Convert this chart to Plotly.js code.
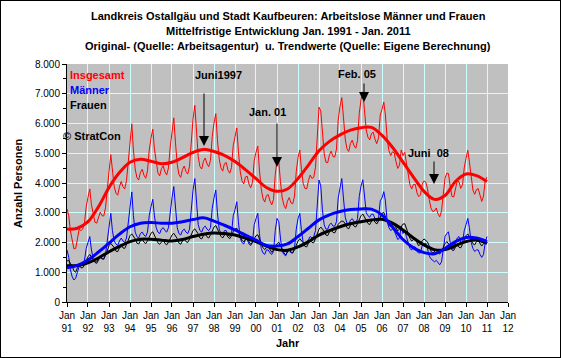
<!DOCTYPE html>
<html><head><meta charset="utf-8">
<script src="https://cdn.plot.ly/plotly-3.0.1.min.js"></script>
<style>
html,body{margin:0;padding:0;background:#fff;}
#wrap{position:relative;width:561px;height:358px;}
#chart{width:561px;height:358px;}
#frame{position:absolute;left:0;top:0;width:561px;height:358px;box-sizing:border-box;border:1px solid #000;pointer-events:none;}
</style></head>
<body>
<div id="wrap"><div id="chart"></div><div id="frame"></div></div>
<script>
// Monthly values Jan 1991 ... Jan 2011 (one row per year)
const maenner = [
1750,1500,1100,850,740,800,1000,1200,1250,1300,1400,1800,
2000,2200,1750,1450,1350,1350,1450,1500,1450,1450,1600,2100,
2500,2980,2400,2050,1950,1900,2050,2150,2050,2000,2150,2700,
3200,3700,2900,2350,2200,2150,2300,2350,2250,2200,2350,2900,
3200,3450,2900,2500,2350,2300,2450,2500,2400,2350,2500,3050,
3500,3880,3150,2500,2300,2250,2400,2450,2350,2300,2450,3100,
3750,4150,3300,2600,2400,2350,2500,2550,2450,2400,2500,3150,
3500,3760,3000,2450,2300,2250,2400,2400,2250,2200,2300,2900,
3100,3370,2700,2150,2000,1950,2100,2100,1950,1900,2000,2600,
2800,2980,2300,1800,1650,1600,1750,1750,1650,1600,1700,2400,
2810,2700,2150,1700,1600,1550,1700,1750,1650,1650,1800,2450,
2800,2980,2400,2000,1950,1950,2100,2200,2150,2200,2400,3200,
4100,3900,3100,2600,2450,2450,2600,2650,2550,2550,2700,3500,
3900,4150,3500,2850,2650,2600,2750,2800,2700,2650,2800,3550,
3900,4110,3600,3000,2900,2850,2950,2950,2800,2700,2800,3400,
3500,3710,3400,2700,2500,2400,2450,2400,2250,2100,2150,2550,
2300,2400,2200,1950,1800,1750,1850,1850,1700,1650,1650,1900,
1950,1980,1800,1550,1450,1400,1350,1400,1300,1250,1350,1750,
2200,2300,2360,2000,1800,1800,2000,2150,2200,2000,2000,2400,
2600,2810,2500,2000,1800,1700,1750,1750,1600,1500,1600,2000,
2200];
const frauen = [
1380,1400,1300,1200,1050,1000,1150,1250,1150,1150,1250,1400,
1520,1600,1520,1450,1330,1300,1430,1520,1450,1440,1570,1760,
1890,1970,1900,1830,1710,1690,1820,1900,1820,1800,1930,2100,
2230,2290,2210,2120,1980,1950,2060,2110,2010,1960,2060,2210,
2310,2360,2250,2150,1990,1940,2030,2080,1970,1920,2010,2160,
2250,2310,2220,2130,1980,1940,2050,2120,2030,2000,2120,2280,
2400,2460,2380,2290,2150,2120,2230,2290,2190,2150,2260,2410,
2520,2570,2460,2360,2210,2150,2250,2290,2180,2130,2220,2360,
2450,2480,2370,2250,2080,2020,2100,2130,2010,1940,2020,2150,
2230,2260,2130,2010,1830,1760,1830,1860,1740,1670,1750,1880,
1960,2010,1900,1800,1650,1590,1690,1760,1680,1650,1760,1930,
2050,2130,2060,1990,1870,1850,1980,2070,2000,1990,2130,2310,
2450,2520,2450,2380,2250,2230,2350,2420,2340,2320,2440,2610,
2680,2720,2710,2630,2500,2460,2580,2640,2550,2520,2630,2790,
2900,2960,2870,2780,2640,2600,2710,2760,2670,2620,2720,2880,
2980,3010,2890,2770,2590,2520,2600,2610,2470,2390,2450,2560,
2620,2630,2480,2340,2140,2050,2100,2110,1970,1890,1950,2060,
2120,2050,2020,1890,1710,1640,1710,1760,1660,1610,1710,1860,
1960,2030,1960,1880,1750,1730,1850,1920,1840,1820,1940,2110,
2230,2290,2200,2100,1960,1920,2030,2060,1940,1880,1960,2090,
2000];
const insgesamt = [
3130,2900,2400,2050,1790,1800,2150,2450,2400,2450,2650,3200,
3520,3800,3270,2900,2680,2650,2880,3020,2900,2890,3170,3860,
4390,4950,4300,3880,3660,3590,3870,4050,3870,3800,4080,4800,
5430,5990,5110,4470,4180,4100,4360,4460,4260,4160,4410,5110,
5510,5810,5150,4650,4340,4240,4480,4580,4370,4270,4510,5210,
5750,6190,5370,4630,4280,4190,4450,4570,4380,4300,4570,5380,
6150,6610,5680,4890,4550,4470,4730,4840,4640,4550,4760,5560,
6020,6330,5460,4810,4510,4400,4650,4690,4430,4330,4520,5260,
5550,5850,5070,4400,4080,3970,4200,4230,3960,3840,4020,4750,
5030,5240,4430,3810,3480,3360,3580,3610,3390,3270,3450,4280,
4770,4710,4050,3500,3250,3140,3390,3510,3330,3300,3560,4380,
4850,5110,4460,3990,3820,3800,4080,4270,4150,4190,4530,5510,
6550,6420,5550,4980,4700,4680,4950,5070,4890,4870,5140,6110,
6580,6870,6210,5480,5150,5060,5330,5440,5250,5170,5430,6340,
6800,7070,6470,5780,5540,5450,5660,5710,5470,5320,5520,6280,
6480,6720,6290,5470,5090,4920,5050,5010,4720,4490,4600,5110,
4920,5030,4680,4290,3940,3800,3950,3960,3670,3540,3600,3960,
4070,4030,3820,3440,3160,3040,3060,3160,2960,2860,3060,3610,
4160,4330,4320,3880,3550,3530,3850,4070,4040,3820,3940,4510,
4830,5100,4700,4100,3760,3620,3780,3810,3540,3380,3560,4090,
4200];
// Trend values every half year (Jan / Jul), Jan 1991 ... Jan 2011
const trendInsgesamt = [2450,2480,2700,3200,3850,4350,4700,4800,4730,4650,4700,4850,5030,5130,5060,4930,4720,4450,4150,3850,3720,3800,4150,4600,5080,5400,5620,5780,5860,5870,5600,5200,4700,4200,3720,3450,3580,4050,4300,4250,4050];
const trendMaenner = [1150,1230,1410,1680,1980,2280,2530,2650,2670,2650,2650,2700,2770,2830,2720,2580,2420,2250,2080,1900,1880,1950,2200,2480,2760,2930,3040,3110,3130,3120,2920,2520,2100,1820,1660,1620,1800,2030,2170,2150,2030];
const trendFrauen = [1220,1230,1320,1480,1690,1870,2030,2110,2110,2080,2050,2100,2200,2280,2320,2300,2250,2150,2030,1880,1760,1740,1850,2030,2250,2400,2530,2630,2700,2760,2780,2650,2420,2150,1920,1760,1760,1900,2030,2080,1970];
const tickYears = [91,92,93,94,95,96,97,98,99,'00','01','02','03','04','05','06','07','08','09',10,11,12];

function pad(n){return (n<10?'0':'')+n;}
const monthX = [];
for (let i=0;i<maenner.length;i++){const y=1991+Math.floor(i/12), m=i%12+1; monthX.push(y+'-'+pad(m)+'-01');}
const trendX = [];
for (let i=0;i<trendMaenner.length;i++){const y=1991+Math.floor(i/2), m=(i%2)?7:1; trendX.push(y+'-'+pad(m)+'-01');}
const tickVals = [], tickText = [];
for (let i=0;i<tickYears.length;i++){tickVals.push((1991+i)+'-01-01'); tickText.push('Jan<br>'+tickYears[i]);}

const RED='#ff0000', BLUE='#0000ff', BLK='#000000';
const traces = [
 {x:monthX,y:insgesamt,mode:'lines',line:{color:RED,width:1},hoverinfo:'skip'},
 {x:monthX,y:maenner,mode:'lines',line:{color:BLUE,width:1},hoverinfo:'skip'},
 {x:monthX,y:frauen,mode:'lines',line:{color:BLK,width:1},hoverinfo:'skip'},
 {x:trendX,y:trendFrauen,mode:'lines',line:{color:BLK,width:3,shape:'spline'},hoverinfo:'skip'},
 {x:trendX,y:trendMaenner,mode:'lines',line:{color:BLUE,width:3,shape:'spline'},hoverinfo:'skip'},
 {x:trendX,y:trendInsgesamt,mode:'lines',line:{color:RED,width:3,shape:'spline'},hoverinfo:'skip'}
];

const F = 'Liberation Sans, Arial, sans-serif';
function px2x(p){return (p-67)/441;}
function px2y(p){return (302-p)/238;}
const ann = [];
function txt(t,xp,yp,opt){ann.push(Object.assign({text:t,xref:'paper',yref:'paper',x:px2x(xp),y:px2y(yp),showarrow:false,xanchor:'center',yanchor:'middle',font:{family:F,size:11,color:'#000',weight:'bold'}},opt||{}));}
function arrow(xp,yTip,yTail){ann.push({text:'',xref:'paper',yref:'paper',x:px2x(xp),y:px2y(yTip),ax:0,ay:-(yTip-yTail),showarrow:true,arrowhead:2,arrowsize:2,arrowwidth:1,arrowcolor:'#000'});}
// titles
txt('Landkreis Ostallgäu und Stadt Kaufbeuren: Arbeitslose Männer und Frauen',288,16);
txt('Mittelfristige Entwicklung Jan. 1991 - Jan. 2011',288,31);
txt('Original- (Quelle: Arbeitsagentur)\u00a0 u. Trendwerte (Quelle: Eigene Berechnung)',288,46);
txt('Anzahl Personen',18,183,{textangle:-90});
txt('Jahr',288,343);
// series labels
txt('Insgesamt',68,75,{xanchor:'left',font:{family:F,size:11,color:RED,weight:'bold'}});
txt('Männer',68,90,{xanchor:'left',font:{family:F,size:11,color:BLUE,weight:'bold'}});
txt('Frauen',68,105,{xanchor:'left',font:{family:F,size:11,color:BLK,weight:'bold'}});
txt('© StratCon',61,136,{xanchor:'left'});
// event labels with arrows
txt('Juni1997',193,75,{xanchor:'left'});
arrow(204,146,92);
txt('Jan. 01',267,112);
arrow(277,167,122);
txt('Feb. 05',357,74);
arrow(364,102,82);
txt('Juni\u00a0 08',428,153);
arrow(434,184,160);

const yax = {range:[0,8000],dtick:1000,tick0:0,tickformat:',d',showline:true,linecolor:'#000',linewidth:1,
  ticks:'outside',ticklen:4,tickcolor:'#000',zeroline:false,
  minor:{dtick:500,ticklen:3,tickcolor:'#000',showgrid:false,ticks:'outside'},
  tickfont:{family:F,size:10,color:'#000'}};
const layout = {
  width:561,height:358,margin:{l:67,r:53,t:64,b:56},
  paper_bgcolor:'#ffffff',plot_bgcolor:'#c0c0c0',showlegend:false,separators:',.',
  font:{family:F,size:10,color:'#000'},
  xaxis:{type:'date',range:['1991-01-01','2012-01-01'],tickmode:'array',tickvals:tickVals,ticktext:tickText,
    showgrid:true,gridcolor:'#ccffff',gridwidth:1,showline:true,linecolor:'#000',linewidth:1,mirror:false,
    ticks:'outside',ticklen:4,tickcolor:'#000',tickangle:0,tickfont:{family:F,size:10,color:'#000'},zeroline:false},
  yaxis:Object.assign({},yax,{showgrid:true,gridcolor:'#ccffff',gridwidth:1}),
  yaxis2:Object.assign({},yax,{overlaying:'y',side:'right',anchor:'x',showgrid:false}),
  annotations:ann
};
Plotly.newPlot('chart',traces,layout,{staticPlot:true,displayModeBar:false});
</script>
</body></html>
